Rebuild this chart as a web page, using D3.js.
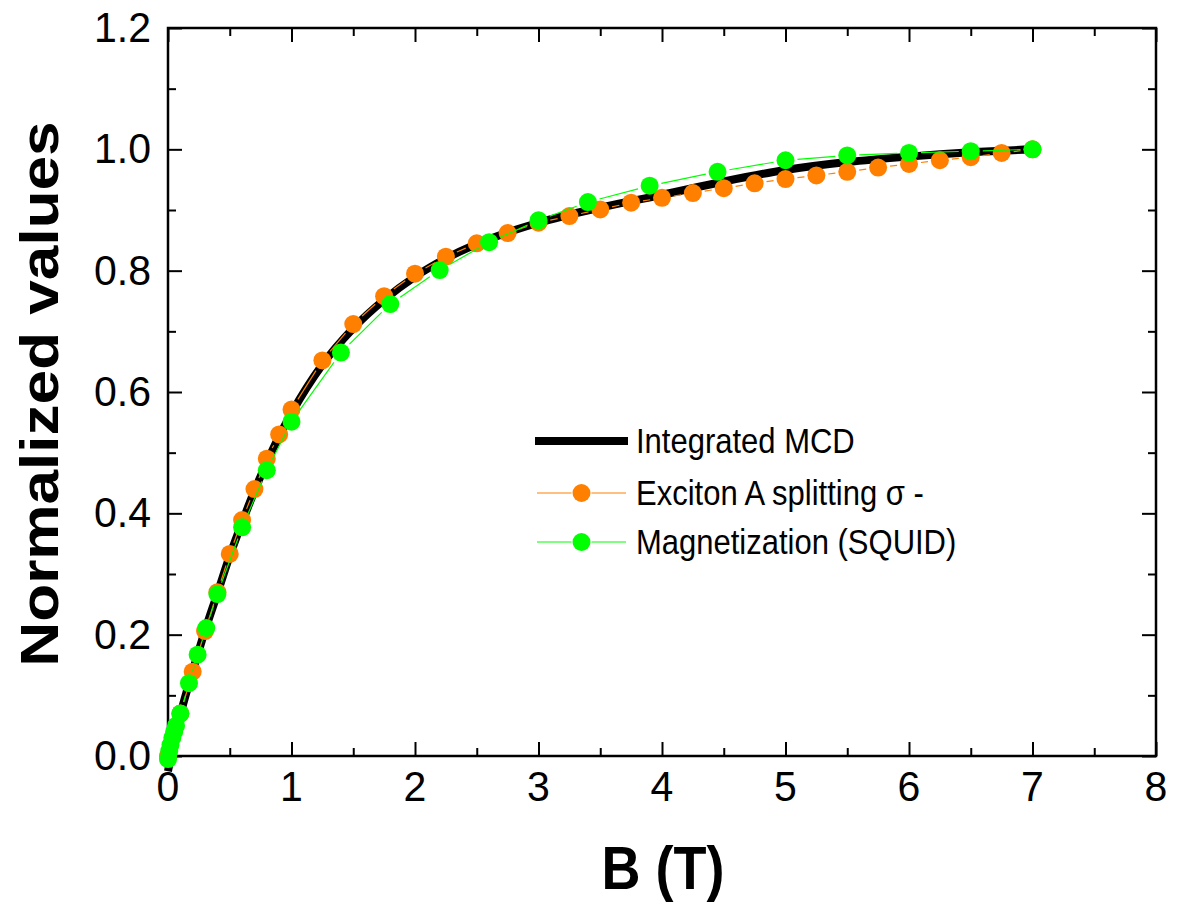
<!DOCTYPE html>
<html>
<head>
<meta charset="utf-8">
<script src="https://cdn.jsdelivr.net/npm/d3@7"></script>
<style>
  html, body { margin: 0; padding: 0; background: #ffffff; }
  svg { display: block; }
  text { font-family: "Liberation Sans", Arial, sans-serif; fill: #000; }
</style>
</head>
<body>
<div id="chart"></div>
<script>
// ---------------- DATA ----------------
const xTicks = [0, 1, 2, 3, 4, 5, 6, 7, 8];
const yTicks = [0.0, 0.2, 0.4, 0.6, 0.8, 1.0, 1.2];
const xTickLabels = ["0", "1", "2", "3", "4", "5", "6", "7", "8"];
const yTickLabels = ["0.0", "0.2", "0.4", "0.6", "0.8", "1.0", "1.2"];

const seriesNames = ["Integrated MCD", "Exciton A splitting \u03c3 -", "Magnetization (SQUID)"];

// Integrated MCD (black thick curve)
const mcdX = [0, 0.05, 0.1, 0.2, 0.3, 0.4, 0.5, 0.6, 0.7, 0.8, 0.9, 1.0, 1.25, 1.5, 1.75, 2.0, 2.25, 2.5, 2.75, 3.0, 3.5, 4.0, 4.5, 5.0, 5.5, 6.0, 6.5, 7.0];
const mcdY = [-0.025, 0.025, 0.068, 0.14, 0.207, 0.268, 0.33, 0.385, 0.437, 0.484, 0.527, 0.565, 0.645, 0.705, 0.752, 0.79, 0.82, 0.844, 0.863, 0.879, 0.904, 0.925, 0.947, 0.966, 0.979, 0.988, 0.995, 1.0];

// Exciton A splitting sigma- (orange)
const excX = [0, 0.1, 0.2, 0.3, 0.4, 0.5, 0.6, 0.7, 0.8, 0.9, 1.0, 1.25, 1.5, 1.75, 2.0, 2.25, 2.5, 2.75, 3.0, 3.25, 3.5, 3.75, 4.0, 4.25, 4.5, 4.75, 5.0, 5.25, 5.5, 5.75, 6.0, 6.25, 6.5, 6.75, 7.0];
const excY = [0.0, 0.07, 0.139, 0.206, 0.27, 0.333, 0.389, 0.44, 0.49, 0.53, 0.571, 0.652, 0.712, 0.758, 0.795, 0.823, 0.845, 0.862, 0.879, 0.89, 0.901, 0.912, 0.92, 0.928, 0.936, 0.944, 0.951, 0.957, 0.963, 0.97, 0.976, 0.982, 0.987, 0.994, 1.0];

// Magnetization SQUID (green)
const sqX = [0, 0.01, 0.02, 0.035, 0.05, 0.065, 0.1, 0.17, 0.24, 0.31, 0.4, 0.6, 0.8, 1.0, 1.4, 1.8, 2.2, 2.6, 3.0, 3.4, 3.9, 4.45, 5.0, 5.5, 6.0, 6.5, 7.0];
const sqY = [-0.005, 0.008, 0.018, 0.03, 0.04, 0.05, 0.07, 0.12, 0.167, 0.211, 0.267, 0.377, 0.471, 0.551, 0.665, 0.745, 0.801, 0.847, 0.883, 0.913, 0.94, 0.963, 0.982, 0.99, 0.994, 0.997, 1.0];

// ---------------- LAYOUT ----------------
const W = 1178, H = 905;
const pL = 168, pR = 1156, pT = 28, pB = 756;
const STRETCH = 1.13;
const colors = { mcd: "#000000", exc: "#FF8000", sq: "#00FF00" };
const R = 9;

const svg = d3.select("#chart").append("svg").attr("width", W).attr("height", H);

const x = d3.scaleLinear().domain([0, 8]).range([pL, pR]);
const y = d3.scaleLinear().domain([0, 1.2]).range([pB, pT]);

// Ticks (inside) via d3 axes
const majorLen = 14, minorLen = 8;
const xMinor = d3.range(0.5, 8, 1);
const yMinor = d3.range(0.1, 1.2, 0.2);

function tickAxis(axisFn, scale, vals, len, transform) {
  const g = svg.append("g").attr("transform", transform)
    .call(axisFn(scale).tickValues(vals).tickSize(len).tickFormat(""));
  g.select(".domain").remove();
  g.selectAll(".tick line").attr("stroke", "#000").attr("stroke-width", 2);
  return g;
}
tickAxis(d3.axisTop, x, xTicks, majorLen, `translate(0,${pB})`);
tickAxis(d3.axisTop, x, xMinor, minorLen, `translate(0,${pB})`);
tickAxis(d3.axisRight, y, yTicks, majorLen, `translate(${pL},0)`);
tickAxis(d3.axisRight, y, yMinor, minorLen, `translate(${pL},0)`);
tickAxis(d3.axisLeft, y, yTicks, majorLen, `translate(${pR},0)`);
tickAxis(d3.axisLeft, y, yMinor, minorLen, `translate(${pR},0)`);
tickAxis(d3.axisBottom, x, xTicks, majorLen, `translate(0,${pT})`);
tickAxis(d3.axisBottom, x, xMinor, minorLen, `translate(0,${pT})`);

// frame
svg.append("rect").attr("x", pL).attr("y", pT).attr("width", pR - pL).attr("height", pB - pT)
  .attr("fill", "none").attr("stroke", "#000").attr("stroke-width", 2.5);

// tick labels
const tickFont = 41;
svg.append("g").selectAll("text").data(xTicks).join("text")
  .attr("transform", (d) => `translate(${x(d)},${pB + 31}) scale(1,1.02)`)
  .attr("text-anchor", "middle").attr("dominant-baseline", "central")
  .style("font-size", tickFont + "px")
  .text((d, i) => xTickLabels[i]);
svg.append("g").selectAll("text").data(yTicks).join("text")
  .attr("transform", (d) => `translate(${pL - 17},${y(d)}) scale(1,1.02)`)
  .attr("text-anchor", "end").attr("dominant-baseline", "central")
  .style("font-size", tickFont + "px")
  .text((d, i) => yTickLabels[i]);

// axis titles
svg.append("text")
  .attr("transform", `translate(${663},${868}) scale(1,${STRETCH})`)
  .attr("text-anchor", "middle").attr("dominant-baseline", "central")
  .style("font-size", "54px").style("font-weight", "bold")
  .text("B (T)");
svg.append("text")
  .attr("transform", `translate(${39},${394}) rotate(-90) scale(1.15,1)`)
  .attr("text-anchor", "middle").attr("dominant-baseline", "central")
  .style("font-size", "54px").style("font-weight", "bold")
  .text("Normalized values");

// ---------------- DATA MARKS ----------------
const mcd = mcdX.map((v, i) => ({ x: v, y: mcdY[i] }));
const exc = excX.map((v, i) => ({ x: v, y: excY[i] }));
const sq = sqX.map((v, i) => ({ x: v, y: sqY[i] }));

svg.append("path").datum(mcd)
  .attr("d", d3.line().x(d => x(d.x)).y(d => y(d.y)).curve(d3.curveMonotoneX))
  .attr("fill", "none").attr("stroke", colors.mcd).attr("stroke-width", 8)
  .attr("stroke-linejoin", "round");

function gappedLines(data, color, width, gap) {
  const segs = [];
  for (let i = 0; i < data.length - 1; i++) {
    const x1 = x(data[i].x), y1 = y(data[i].y), x2 = x(data[i + 1].x), y2 = y(data[i + 1].y);
    const dx = x2 - x1, dy = y2 - y1, L = Math.hypot(dx, dy);
    if (L <= 2 * gap) continue;
    const ux = dx / L, uy = dy / L;
    segs.push([x1 + ux * gap, y1 + uy * gap, x2 - ux * gap, y2 - uy * gap]);
  }
  svg.append("g").selectAll("line").data(segs).join("line")
    .attr("x1", d => d[0]).attr("y1", d => d[1]).attr("x2", d => d[2]).attr("y2", d => d[3])
    .attr("stroke", color).attr("stroke-width", width);
}
function markers(data, color) {
  svg.append("g").selectAll("circle").data(data).join("circle")
    .attr("cx", d => x(d.x)).attr("cy", d => y(d.y)).attr("r", R)
    .attr("fill", color);
}
gappedLines(exc, colors.exc, 1.2, R + 3);
markers(exc, colors.exc);
gappedLines(sq, colors.sq, 1.2, R + 3);
markers(sq, colors.sq);

// ---------------- LEGEND ----------------
const lg = svg.append("g");
const lx1 = 537, lx2 = 626, lcx = (lx1 + lx2) / 2, ltx = 636;
const rows = [441, 493, 542];
lg.append("line").attr("x1", lx1 - 2).attr("x2", lx2 + 2).attr("y1", rows[0]).attr("y2", rows[0])
  .attr("stroke", colors.mcd).attr("stroke-width", 8);
[[colors.exc, rows[1]], [colors.sq, rows[2]]].forEach(([c, ry]) => {
  lg.append("line").attr("x1", lx1).attr("x2", lcx - R - 1).attr("y1", ry).attr("y2", ry).attr("stroke", c).attr("stroke-width", 1.2);
  lg.append("line").attr("x1", lcx + R + 1).attr("x2", lx2).attr("y1", ry).attr("y2", ry).attr("stroke", c).attr("stroke-width", 1.2);
  lg.append("circle").attr("cx", lcx).attr("cy", ry).attr("r", R).attr("fill", c);
});
lg.selectAll("text").data(seriesNames).join("text")
  .attr("transform", (d, i) => `translate(${ltx},${rows[i]}) scale(1,${STRETCH})`)
  .attr("dominant-baseline", "central")
  .style("font-size", "31px")
  .text(d => d);
</script>
</body>
</html>
